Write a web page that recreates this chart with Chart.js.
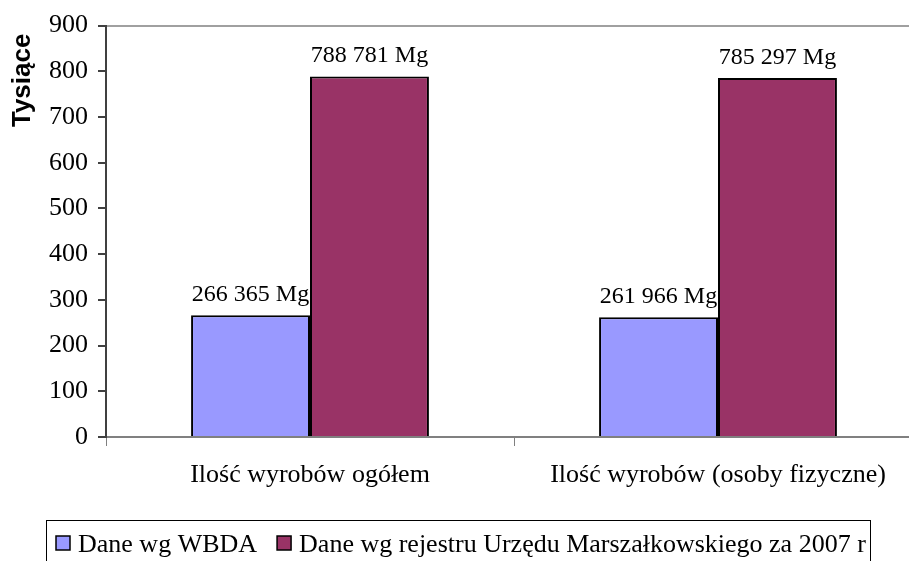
<!DOCTYPE html>
<html>
<head>
<meta charset="utf-8">
<script src="https://cdn.jsdelivr.net/npm/chart.js@4.4.1/dist/chart.umd.min.js"></script>
<style>
  html, body { margin: 0; padding: 0; background: #fff; overflow: hidden; }
  #wrap { position: absolute; left: 0; top: 0; width: 940px; height: 561px; }
</style>
</head>
<body>
<div id="wrap"><canvas id="bar-chart" width="940" height="561"></canvas></div>
<script>
// chart data (values in thousands of Mg)
const categories = ["Ilość wyrobów ogółem", "Ilość wyrobów (osoby fizyczne)"];
const seriesNames = ["Dane wg WBDA", "Dane wg rejestru Urzędu Marszałkowskiego za 2007 r"];
const wbda = [266.365, 261.966];
const rejestr = [788.781, 785.297];
const yTicks = [0, 100, 200, 300, 400, 500, 600, 700, 800, 900];

const serif = "'Liberation Serif', 'Times New Roman', serif";

// "266 365 Mg" style labels
function mgLabel(v) {
  const n = Math.round(v * 1000).toString();
  return n.replace(/\B(?=(\d{3})+(?!\d))/g, " ") + " Mg";
}

// value labels above bars
const barLabels = {
  id: 'barLabels',
  afterDatasetsDraw(chart) {
    const ctx = chart.ctx;
    ctx.save();
    ctx.font = "24px " + serif;
    ctx.fillStyle = "#000";
    ctx.textAlign = "center";
    ctx.textBaseline = "alphabetic";
    chart.data.datasets.forEach((ds, i) => {
      chart.getDatasetMeta(i).data.forEach((bar, j) => {
        ctx.fillText(mgLabel(ds.data[j]), bar.x, bar.y - 14);
      });
    });
    ctx.restore();
  }
};

// boxed legend at the bottom
const boxLegend = {
  id: 'boxLegend',
  afterDraw(chart) {
    const ctx = chart.ctx;
    ctx.save();
    ctx.strokeStyle = "#000";
    ctx.lineWidth = 1;
    ctx.strokeRect(46.5, 520.5, 824, 60);
    ctx.font = "26px " + serif;
    ctx.textBaseline = "alphabetic";
    let x = 56;
    chart.data.datasets.forEach(ds => {
      ctx.fillStyle = ds.backgroundColor;
      ctx.fillRect(x, 536, 14, 14);
      ctx.lineWidth = 1.5;
      ctx.strokeRect(x, 536, 14, 14);
      ctx.fillStyle = "#000";
      ctx.fillText(ds.label, x + 22, 552);
      x += 22 + ctx.measureText(ds.label).width + 20;
    });
    ctx.restore();
  }
};

// y axis title, rotated, near the top of the axis
const yTitle = {
  id: 'yTitle',
  afterDraw(chart) {
    const ctx = chart.ctx;
    ctx.save();
    ctx.translate(23, chart.chartArea.top + 8);
    ctx.rotate(-Math.PI / 2);
    ctx.font = "bold 26px 'Liberation Sans', Arial, sans-serif";
    ctx.fillStyle = "#000";
    ctx.textAlign = "right";
    ctx.textBaseline = "middle";
    ctx.fillText("Tysiące", 0, 0);
    ctx.restore();
  }
};

new Chart(document.getElementById("bar-chart"), {
  type: 'bar',
  data: {
    labels: categories,
    datasets: [
      {
        label: seriesNames[0],
        data: wbda,
        backgroundColor: "#9999ff",
        borderColor: "#000",
        borderWidth: 2
      },
      {
        label: seriesNames[1],
        data: rejestr,
        backgroundColor: "#993366",
        borderColor: "#000",
        borderWidth: 2
      }
    ]
  },
  options: {
    responsive: false,
    animation: false,
    categoryPercentage: 0.583,
    barPercentage: 1,
    layout: { padding: { top: 24, right: 18, bottom: 0, left: 0 } },
    plugins: {
      legend: { display: false },
      tooltip: { enabled: false }
    },
    scales: {
      x: {
        afterFit: s => { s.height = 124; },
        grid: {
          offset: true,
          drawOnChartArea: false,
          color: "#808080",
          tickLength: 9
        },
        border: { color: "#808080", width: 2 },
        ticks: {
          color: "#000",
          padding: 14,
          font: { family: serif, size: 26 }
        }
      },
      y: {
        min: 0,
        max: 900,
        afterFit: s => { s.width = 106; },
        afterBuildTicks: s => { s.ticks = yTicks.map(v => ({ value: v })); },
        grid: {
          color: c => (c.tick && c.tick.value === 900) ? "#a0a0a0" : "rgba(0,0,0,0)",
          lineWidth: 2,
          tickColor: "#404040",
          tickLength: 8
        },
        border: { color: "#404040", width: 2 },
        ticks: {
          color: "#000",
          padding: 10,
          font: { family: serif, size: 26 }
        }
      }
    }
  },
  plugins: [barLabels, boxLegend, yTitle]
});
</script>
</body>
</html>
